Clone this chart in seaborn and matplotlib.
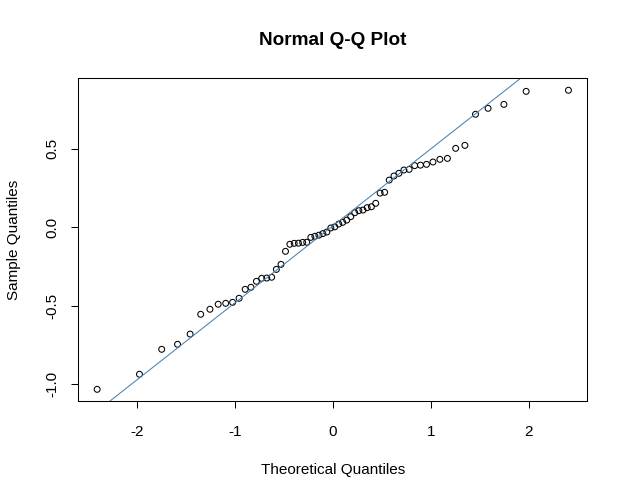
import numpy as np
import pandas as pd
import matplotlib
matplotlib.use("Agg")
import matplotlib.pyplot as plt
import seaborn as sns
from statistics import NormalDist

# sorted sample values (n = 62)
sample_q = [-1.032, -0.936, -0.777, -0.745, -0.680, -0.554, -0.522, -0.490, -0.484, -0.478,
            -0.452, -0.395, -0.382, -0.344, -0.325, -0.323, -0.318, -0.268, -0.236, -0.153,
            -0.108, -0.102, -0.101, -0.096, -0.095, -0.064, -0.057, -0.050, -0.040, -0.030,
            -0.004, 0.003, 0.021, 0.032, 0.046, 0.068, 0.093, 0.106, 0.110, 0.125,
            0.131, 0.153, 0.218, 0.223, 0.301, 0.327, 0.344, 0.365, 0.369, 0.393,
            0.396, 0.401, 0.416, 0.433, 0.439, 0.503, 0.522, 0.720, 0.758, 0.783,
            0.866, 0.873]
x_ticks = [-2, -1, 0, 1, 2]
y_ticks = [-1.0, -0.5, 0.0, 0.5]
y_tick_labels = ["-1.0", "-0.5", "0.0", "0.5"]

sns.set_theme(style="ticks")
plt.rcParams["font.family"] = ["Liberation Sans", "DejaVu Sans"]
plt.rcParams["axes.unicode_minus"] = False

n = len(sample_q)
# theoretical quantiles like R's qqnorm: qnorm(ppoints(n))
nd = NormalDist()
theo = [nd.inv_cdf((i + 1 - 0.5) / n) for i in range(n)]
df = pd.DataFrame({"theo": theo, "sample": sample_q})

# qqline through the quartiles (R type 7)
q1, q3 = np.quantile(df["sample"], [0.25, 0.75])
slope = (q3 - q1) / (nd.inv_cdf(0.75) - nd.inv_cdf(0.25))
icpt = q1 - slope * nd.inv_cdf(0.25)

fig = plt.figure(figsize=(6.28, 4.99), dpi=100)
fig.patch.set_facecolor("white")
ax = fig.add_axes([78.3 / 628, 1 - 401.3 / 499, 509 / 628, 323 / 499])
ax.set_facecolor("white")

sns.scatterplot(data=df, x="theo", y="sample", ax=ax, marker="o", s=18, legend=False)
pts = ax.collections[0]
pts.set_facecolor("none")
pts.set_edgecolor("black")
pts.set_linewidth(0.75)

ax.axline((0, icpt), slope=slope, color="#4682B4", lw=0.75)

xr = max(theo) - min(theo)
yr = max(sample_q) - min(sample_q)
ax.set_xlim(min(theo) - 0.04 * xr, max(theo) + 0.04 * xr)
ax.set_ylim(min(sample_q) - 0.04 * yr, max(sample_q) + 0.04 * yr)

ax.set_xticks(x_ticks)
ax.set_xticklabels([str(t) for t in x_ticks])
ax.set_yticks(y_ticks)
ax.set_yticklabels(y_tick_labels, rotation=90, va="center")
ax.tick_params(direction="out", length=5, width=0.75, color="black",
               labelsize=11, labelcolor="black")
ax.tick_params(axis="x", pad=12)
ax.tick_params(axis="y", pad=8.5)
for sp in ax.spines.values():
    sp.set_visible(True)
    sp.set_color("black")
    sp.set_linewidth(0.75)

ax.set_xlabel("Theoretical Quantiles", fontsize=11, color="black")
ax.set_ylabel("Sample Quantiles", fontsize=11, color="black")
ax.xaxis.label.set_va("center")
ax.yaxis.label.set_va("center")
ax.xaxis.set_label_coords(0.5, -(469.7 - 401.3) / 323)
ax.yaxis.set_label_coords((14 - 78.3) / 509, 0.5)

fig.text((78.3 + 587.3) / 2 / 628, 1 - 40.7 / 499, "Normal Q-Q Plot",
         ha="center", va="center", fontsize=13.7, fontweight="bold", color="black")

fig.savefig("out.png", dpi=100)
